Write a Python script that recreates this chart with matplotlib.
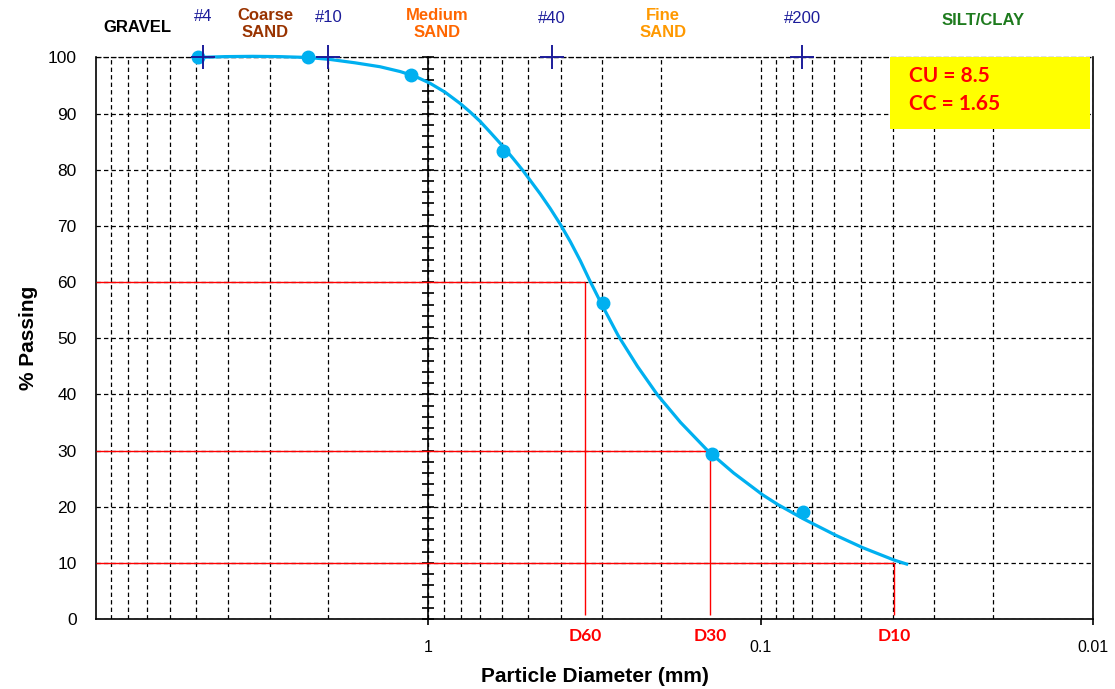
import numpy as np
import matplotlib.pyplot as plt
from matplotlib.ticker import MultipleLocator, NullFormatter
from matplotlib.patches import Rectangle

# =========================
# DATA
# =========================
# sieve test points: particle diameter (mm), % passing
sample_d = [4.94, 2.31, 1.13, 0.597, 0.2987, 0.1405, 0.0744]
sample_pct = [100.0, 100.0, 96.8, 83.3, 56.3, 29.4, 19.1]

# fitted gradation curve
curve_d = [4.95, 4.10, 3.377, 2.800, 2.306, 1.978, 1.663, 1.398, 1.217, 1.097,
           0.988, 0.890, 0.802, 0.749, 0.698, 0.652, 0.595, 0.5556, 0.5184,
           0.4606, 0.4297, 0.4009, 0.3739, 0.3489, 0.3277, 0.2995, 0.2680,
           0.2349, 0.2044, 0.1742, 0.1445, 0.1206, 0.0986, 0.0889, 0.0742,
           0.0594, 0.0493, 0.0397, 0.0360]
curve_pct = [100.0, 100.15, 100.2, 100.15, 100.0, 99.65, 99.05, 98.35, 97.5, 96.65,
             95.4, 93.8, 91.8, 90.3, 88.6, 86.7, 84.1, 82.0, 79.8,
             75.7, 73.1, 70.3, 67.2, 63.8, 60.4, 55.8, 50.4,
             45.0, 39.9, 35.0, 30.0, 26.0, 22.1, 20.4, 17.8,
             14.9, 12.7, 10.5, 9.7]

# characteristic diameters
d_names = ["D60", "D30", "D10"]
d_pct = [60, 30, 10]
d_size = [0.337, 0.1416, 0.0397]

# sieve marks along the top
sieve_names = ["#4", "#10", "#40", "#200"]
sieve_d = [4.75, 2.0, 0.425, 0.075]

# soil class labels along the top
class_names = ["GRAVEL", "Coarse\nSAND", "Medium\nSAND", "Fine\nSAND", "SILT/CLAY"]
class_x = [7.5, 3.09, 0.94, 0.197, 0.0214]
class_colors = ["black", "#993300", "#FF6600", "#FF9900", "#1E7B1E"]

cu_text = "CU = 8.5\nCC = 1.65"

x_ticks = [1, 0.1, 0.01]
x_ticklabels = ["1", "0.1", "0.01"]

# =========================
# PLOT
# =========================
plt.rcParams["font.family"] = ["Liberation Sans", "DejaVu Sans"]

fig = plt.figure(figsize=(11.15, 6.89), dpi=100)
ax = fig.add_axes([0.0861, 0.1016, 0.8942, 0.8150])

ax.set_xscale("log")
ax.set_xlim(10, 0.01)
ax.set_ylim(0, 100)

# grid
minor_x = [m * 10.0 ** e for e in (0, -1, -2) for m in range(2, 10)]
ax.set_xticks(minor_x, minor=True)
ax.xaxis.set_minor_formatter(NullFormatter())
ax.set_xticks(x_ticks)
ax.set_xticklabels(x_ticklabels)
ax.set_yticks(np.arange(0, 101, 10))
ax.grid(True, which="both", axis="x", color="black", linestyle=(0, (3.5, 2.5)), linewidth=0.9)
ax.grid(True, which="major", axis="y", color="black", linestyle=(0, (3.5, 2.5)), linewidth=0.9)
ax.set_axisbelow(True)

ax.tick_params(axis="x", which="major", direction="out", length=4, width=1.2, pad=11, labelsize=11.5)
ax.tick_params(axis="x", which="minor", length=0)
ax.tick_params(axis="y", length=0, pad=14, labelsize=12.5)

for s in ["left", "right", "bottom"]:
    ax.spines[s].set_linewidth(1.2)
ax.spines["top"].set_linestyle((0, (3.5, 2.5)))
ax.spines["top"].set_linewidth(0.9)

# axis line through d = 1 mm with ticks
sec = ax.secondary_yaxis(1 / 3)
sec.set_yticks(np.arange(0, 101, 10))
sec.yaxis.set_minor_locator(MultipleLocator(2))
sec.tick_params(which="both", direction="inout", length=9, width=1.2,
                labelleft=False, labelright=False)
for s in sec.spines.values():
    s.set_linewidth(1.2)

# D lines
ax.hlines(d_pct, 10, d_size, color="red", linewidth=1.0, zorder=3)
ax.vlines(d_size, 0.7, d_pct, color="red", linewidth=1.0, zorder=3)
for name, d in zip(d_names, d_size):
    ax.text(d, -0.031, name, transform=ax.get_xaxis_transform(), ha="center", va="center",
            color="red", fontsize=12.5, fontweight="bold", family=["Lato", "DejaVu Sans"])

# gradation curve and points
ax.plot(curve_d, curve_pct, color="#00B0F0", linewidth=2.3, zorder=4, clip_on=False,
        solid_capstyle="butt", solid_joinstyle="round")
ax.plot(sample_d, sample_pct, "o", color="#00B0F0", markersize=9, zorder=5, clip_on=False)

# sieve marks
ax.plot(sieve_d, [100] * len(sieve_d), "+", color="#1C1C9A", markersize=17,
        markeredgewidth=1.4, zorder=6, clip_on=False)
sieve_y = [1.073, 1.071, 1.070, 1.069]
for name, d, yy in zip(sieve_names, sieve_d, sieve_y):
    ax.text(d, yy, name, transform=ax.get_xaxis_transform(), ha="center", va="center",
            color="#1C1C9A", fontsize=12)

class_y = [1.053, 1.060, 1.060, 1.060, 1.066]
for name, x, c, yy in zip(class_names, class_x, class_colors, class_y):
    ax.text(x, yy, name, transform=ax.get_xaxis_transform(), ha="center", va="center",
            color=c, fontsize=12, fontweight="bold", linespacing=1.15)

# CU / CC box
ax.add_patch(Rectangle((0.7964, 0.8734), 0.2006, 0.1266, transform=ax.transAxes,
                       facecolor="#FFFF00", edgecolor="none", zorder=7))
ax.text(0.8155, 0.9420, cu_text, transform=ax.transAxes, ha="left", va="center",
        color="red", fontsize=15, fontweight="bold", linespacing=1.55,
        family=["Lato", "DejaVu Sans"], zorder=8)

ax.set_xlabel("Particle Diameter (mm)", fontsize=15, fontweight="bold", labelpad=9)
ax.set_ylabel("% Passing", fontsize=15, fontweight="bold", labelpad=7)

plt.savefig("out.png", dpi=100)
plt.close()
